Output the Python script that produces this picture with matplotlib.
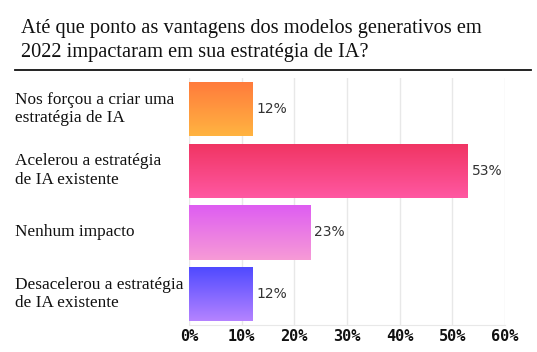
import numpy as np
import matplotlib.pyplot as plt
from matplotlib.colors import LinearSegmentedColormap
from matplotlib.transforms import blended_transform_factory

# data
categories = ["Nos forçou a criar uma\nestratégia de IA",
              "Acelerou a estratégia\nde IA existente",
              "Nenhum impacto",
              "Desacelerou a estratégia\nde IA existente"]
values = [12, 53, 23, 12]
tick_values = [0, 10, 20, 30, 40, 50, 60]
tick_labels = [f"{t}%" for t in tick_values]
# gradient colours (top, bottom) per bar
grad_colors = [("#ff7a3c", "#ffb441"),
               ("#f03462", "#ff58a2"),
               ("#de5df2", "#f79bd6"),
               ("#4d49ff", "#b583ff")]

fig = plt.figure(figsize=(5.37, 3.52), dpi=100)
ax = fig.add_axes([0.352, 0.077, 0.588, 0.701])

y = np.arange(len(values))
bar_h = 0.88
bars = ax.barh(y, values, height=bar_h, color="none", edgecolor="none")

# fill each bar with a vertical gradient
grad = np.linspace(0, 1, 256).reshape(-1, 1)
for b, (c_top, c_bot) in zip(bars, grad_colors):
    cmap = LinearSegmentedColormap.from_list("g", [c_top, c_bot])
    x0, y0 = b.get_x(), b.get_y()
    w, h = b.get_width(), b.get_height()
    im = ax.imshow(grad, cmap=cmap, aspect="auto",
                   extent=[x0, x0 + w, y0 + h, y0], origin="upper", zorder=2)
    im.set_clip_path(b)

for yi, v in zip(y, values):
    ax.text(v + 0.8, yi, f"{v}%", va="center", ha="left",
            fontsize=10, color="#333333", family="DejaVu Sans")

ax.set_xlim(0, 60)
ax.set_ylim(len(values) - 0.5, -0.5)
ax.set_xticks(tick_values)
ax.set_xticklabels(tick_labels, family="DejaVu Sans Mono",
                   fontweight="bold", fontsize=11, color="#111111")
ax.set_yticks([])
ax.tick_params(axis="x", length=0, pad=3)
ax.grid(axis="x", color="#e8e8e8", linewidth=1)
ax.set_axisbelow(True)
for s in ["top", "right", "left"]:
    ax.spines[s].set_visible(False)
ax.spines["bottom"].set_color("#e8e8e8")

# category labels on the left
trans = blended_transform_factory(fig.transFigure, ax.transData)
for yi, cat in zip(y, categories):
    ax.text(0.028, yi, cat, transform=trans, ha="left", va="center",
            family="Liberation Serif", fontsize=12.4, color="#111111",
            linespacing=1.2)

# title and rule
fig.text(0.04, 0.885, "Até que ponto as vantagens dos modelos generativos em\n"
         "2022 impactaram em sua estratégia de IA?",
         ha="left", va="center", family="Liberation Serif", fontsize=14.7,
         color="#111111", linespacing=1.35)
fig.add_artist(plt.Line2D([0.028, 0.988], [0.801, 0.801],
                          transform=fig.transFigure, color="#111111",
                          linewidth=1.3))

fig.savefig("out.png", dpi=100)
